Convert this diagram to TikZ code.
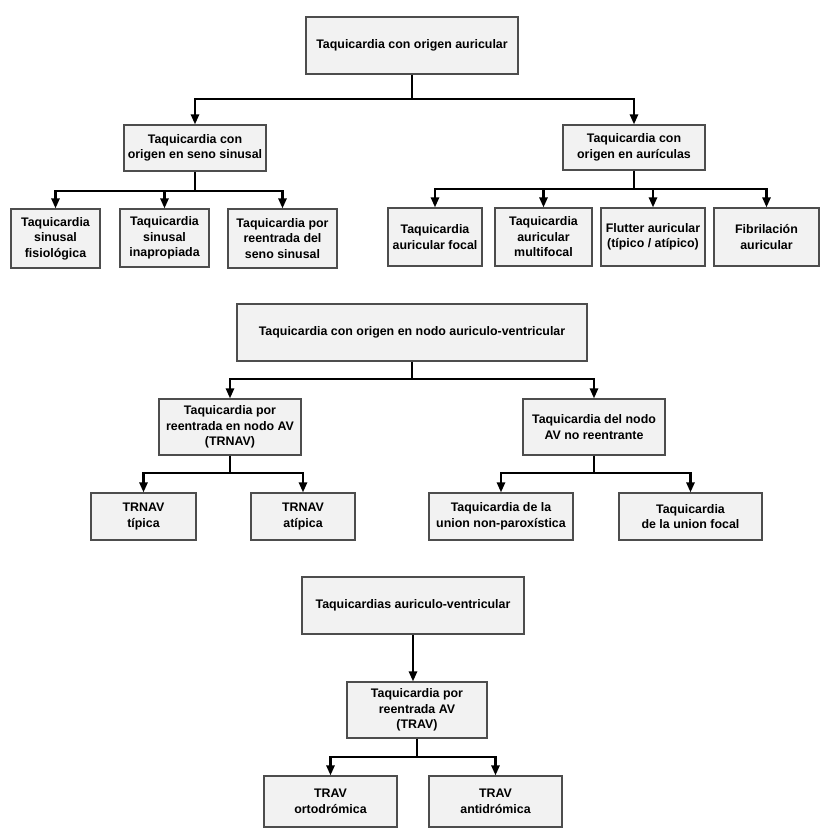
\documentclass[tikz,border=0pt]{standalone}
\usepackage{fontspec}
\setmainfont{Liberation Sans}
\usetikzlibrary{arrows.meta}
\definecolor{boxfill}{HTML}{F2F2F2}
\definecolor{boxline}{HTML}{4D4D4D}
\tikzset{
  box/.style={draw=boxline, fill=boxfill, line width=1.1pt, align=center,
    inner sep=2pt, font=\fontsize{12.4}{15.5}\selectfont\bfseries},
  conn/.style={line width=2.4pt, black, -{Triangle[width=8pt,length=10pt]}},
  plain/.style={line width=2.4pt, black},
}
\begin{document}
\begin{tikzpicture}[x=1pt,y=-1pt]
\useasboundingbox (0,0) rectangle (825,832);
% --- section 1
\node[box, minimum width=212pt, minimum height=57pt] (T1) at (412,45.5) {Taquicardia con origen auricular};
\node[box, minimum width=142pt, minimum height=46pt] (S1) at (195,148) {Taquicardia con\\origen en seno sinusal};
\node[box, minimum width=142pt, minimum height=45pt] (A1) at (634,147.5) {Taquicardia con\\origen en aurículas};
\node[box, minimum width=89pt, minimum height=59pt] (S1a) at (55.5,238.5) {Taquicardia\\sinusal\\fisiológica};
\node[box, minimum width=89pt, minimum height=58pt] (S1b) at (164.5,238) {Taquicardia\\sinusal\\inapropiada};
\node[box, minimum width=109pt, minimum height=59pt] (S1c) at (282.5,238.5) {Taquicardia por\\reentrada del\\seno sinusal};
\node[box, minimum width=94pt, minimum height=58pt] (A1a) at (435,237) {Taquicardia\\auricular focal};
\node[box, minimum width=97pt, minimum height=58pt] (A1b) at (543.5,237) {Taquicardia\\auricular\\multifocal};
\node[box, minimum width=104pt, minimum height=58pt] (A1c) at (653,237) {Flutter auricular\\(típico / atípico)};
\node[box, minimum width=105pt, minimum height=58pt] (A1d) at (766.5,237) {Fibrilación\\auricular};
\coordinate (b1) at (412,99);
\coordinate (b2) at (195,191);
\coordinate (b3) at (634,189);
\draw[plain] (T1.south) -- (b1);
\draw[conn] (b1) -| (S1.north);
\draw[conn] (b1) -| (A1.north);
\draw[plain] (S1.south) -- (b2);
\draw[conn] (b2) -| (S1a.north);
\draw[conn] (b2) -| (S1b.north);
\draw[conn] (b2) -| (S1c.north);
\draw[plain] (A1.south) -- (b3);
\draw[conn] (b3) -| (A1a.north);
\draw[conn] (b3) -| (A1b.north);
\draw[conn] (b3) -| (A1c.north);
\draw[conn] (b3) -| (A1d.north);
% --- section 2
\node[box, minimum width=350pt, minimum height=57pt] (T2) at (412,332.5) {Taquicardia con origen en nodo auriculo-ventricular};
\node[box, minimum width=142pt, minimum height=56pt] (N1) at (230,427) {Taquicardia por\\reentrada en nodo AV\\(TRNAV)};
\node[box, minimum width=142pt, minimum height=56pt] (N2) at (594,427) {Taquicardia del nodo\\AV no reentrante};
\node[box, minimum width=105pt, minimum height=47pt] (N1a) at (143.5,516.5) {TRNAV\\típica};
\node[box, minimum width=104pt, minimum height=47pt] (N1b) at (303,516.5) {TRNAV\\atípica};
\node[box, minimum width=144pt, minimum height=47pt] (N2a) at (501,516.5) {Taquicardia de la\\union non-paroxística};
\node[box, minimum width=143pt, minimum height=47pt] (N2b) at (690.5,516.5) {Taquicardia\\de la union focal};
\coordinate (b4) at (412,379);
\coordinate (b5) at (230,473);
\coordinate (b6) at (594,473);
\draw[plain] (T2.south) -- (b4);
\draw[conn] (b4) -| (N1.north);
\draw[conn] (b4) -| (N2.north);
\draw[plain] (N1.south) -- (b5);
\draw[conn] (b5) -| (N1a.north);
\draw[conn] (b5) -| (N1b.north);
\draw[plain] (N2.south) -- (b6);
\draw[conn] (b6) -| (N2a.north);
\draw[conn] (b6) -| (N2b.north);
% --- section 3
\node[box, minimum width=222pt, minimum height=57pt] (T3) at (413,605.5) {Taquicardias auriculo-ventricular};
\node[box, minimum width=140pt, minimum height=56pt] (V1) at (417,710) {Taquicardia por\\reentrada AV\\(TRAV)};
\node[box, minimum width=133pt, minimum height=51pt] (V1a) at (330.5,801.5) {TRAV\\ortodrómica};
\node[box, minimum width=133pt, minimum height=51pt] (V1b) at (495.5,801.5) {TRAV\\antidrómica};
\coordinate (b7) at (417,757);
\draw[conn] (T3.south) -- (T3.south |- V1.north);
\draw[plain] (V1.south) -- (b7);
\draw[conn] (b7) -| (V1a.north);
\draw[conn] (b7) -| (V1b.north);
\end{tikzpicture}
\end{document}
